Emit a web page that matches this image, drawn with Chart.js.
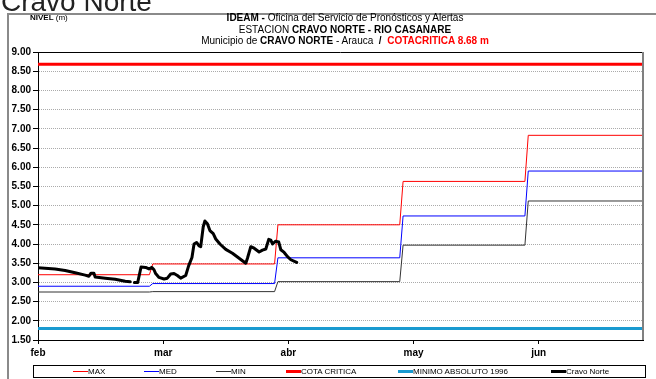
<!DOCTYPE html>
<html>
<head>
<meta charset="utf-8">
<script src="https://cdn.jsdelivr.net/npm/chart.js@4/dist/chart.umd.min.js"></script>
<style>
  html, body { margin: 0; padding: 0; background: #fff; }
  #wrap { position: relative; width: 656px; height: 379px; overflow: hidden; background: #fff;
          font-family: "Liberation Sans", Arial, sans-serif; color: #000; }
  #chart { position: absolute; left: 0; top: 0; }
  .abs { position: absolute; white-space: nowrap; }
  #bigTitle { left: 1px; top: -14px; font-size: 28px; color: #222; }
  #frameTop { left: 7px; top: 13px; width: 649px; height: 2px; background: #8a8a8a; }
  #frameLeft { left: 7px; top: 13px; width: 2px; height: 366px; background: #8a8a8a; }
  .ttl { left: 145px; width: 400px; text-align: center; font-size: 10px; line-height: 12px; }
  #nivel { left: 30px; top: 13px; font-size: 8px; }
  #legend { left: 33px; top: 365px; width: 611px; height: 11px; border: 1px solid #000; }
  .lg { position: absolute; top: 0; height: 11px; font-size: 8px; line-height: 11px; }
  .sw { position: absolute; }
</style>
</head>
<body>
<div id="wrap">
  <canvas id="chart" width="656" height="379"></canvas>
  <div class="abs" id="bigTitle">Cravo Norte</div>
  <div class="abs" id="frameTop"></div>
  <div class="abs" id="frameLeft"></div>
  <div class="abs" id="nivel"><b>NIVEL</b> (m)</div>
  <div class="abs ttl" style="top:12px"><b>IDEAM -</b> Oficina del Servicio de Pronósticos y Alertas</div>
  <div class="abs ttl" style="top:24px">ESTACION <b>CRAVO NORTE - RIO CASANARE</b></div>
  <div class="abs ttl" style="top:35px">Municipio de <b>CRAVO NORTE</b> - Arauca &nbsp;<b>/</b>&nbsp; <b style="color:#ff0000">COTACRITICA 8.68 m</b></div>
  <div class="abs" id="legend"></div>
</div>
<script>
// Month ticks (day index, 30-day months starting 1 feb)
const monthLabels = ['feb', 'mar', 'abr', 'may', 'jun'];
const monthDays = [0, 30, 60, 90, 120];
const lastDay = 145;

// Monthly reference levels (m)
const maxLevels = [3.20, 3.48, 4.50, 5.63, 6.83];
const medLevels = [2.90, 2.97, 3.64, 4.73, 5.90];
const minLevels = [2.75, 2.76, 3.02, 3.97, 5.12];

// Constant reference levels (m)
const cotaCritica = 8.68;
const minimoAbsoluto1996 = 1.80;

// Observed levels, Cravo Norte station (day index, m); null = no data
const obsDay = [0, 4.1, 6.5, 8.9, 11.3, 12.2, 12.7, 13.4, 13.7, 16.1, 18.5, 20.9, 22.1, 22.6,
  23.1, 23.9, 24.7, 25.8, 26.6, 27.3, 27.8, 28.2, 29.0, 30.2, 31.0, 31.8, 32.6, 33.4, 34.2,
  35.4, 36.1, 36.9, 37.4, 38.0, 38.6, 39.0, 39.6, 40.0, 40.6, 41.2, 42.0, 42.6, 43.6, 45.0,
  46.6, 48.2, 49.8, 50.2, 51.0, 51.8, 53.0, 53.8, 54.6, 55.3, 55.8, 56.2, 56.9, 57.7, 58.2,
  59.0, 59.8, 60.6, 62.0];
const obsLevel = [3.38, 3.35, 3.31, 3.25, 3.19, 3.16, 3.24, 3.24, 3.14, 3.11, 3.08, 3.03, 3.02, null,
  3.00, 3.00, 3.40, 3.39, 3.35, 3.39, 3.33, 3.23, 3.13, 3.09, 3.11, 3.22, 3.23, 3.18, 3.11,
  3.18, 3.43, 3.65, 4.00, 4.04, 3.95, 3.93, 4.45, 4.60, 4.53, 4.35, 4.27, 4.13, 4.00, 3.86,
  3.76, 3.63, 3.50, 3.63, 3.93, 3.89, 3.79, 3.84, 3.87, 4.12, 4.10, 4.00, 4.07, 4.05, 3.85,
  3.78, 3.67, 3.59, 3.52];

// Each monthly level changes a few days before the month tick
const stepLead = 3.3, stepRun = 0.8;
function stepPoints(levels) {
  const pts = [];
  levels.forEach((v, i) => {
    const start = i === 0 ? 0 : monthDays[i] - stepLead + stepRun;
    const end = i === levels.length - 1 ? lastDay : monthDays[i + 1] - stepLead;
    pts.push({ x: start, y: v }, { x: end, y: v });
  });
  return pts;
}
const flat = v => [{ x: 0, y: v }, { x: lastDay, y: v }];
const obsPoints = obsDay.map((d, i) => ({ x: d, y: obsLevel[i] }));

const FONT = '"Liberation Sans", Arial, sans-serif';

const series = [
  { label: 'Cravo Norte', data: obsPoints, borderColor: '#000000', borderWidth: 3, order: 0, legendW: 3 },
  { label: 'MAX', data: stepPoints(maxLevels), borderColor: '#ff0000', borderWidth: 1, order: 3, legendW: 1 },
  { label: 'MED', data: stepPoints(medLevels), borderColor: '#0000ff', borderWidth: 1, order: 4, legendW: 1 },
  { label: 'MIN', data: stepPoints(minLevels), borderColor: '#333333', borderWidth: 1, order: 5, legendW: 1 },
  { label: 'COTA CRITICA', data: flat(cotaCritica), borderColor: '#ff0000', borderWidth: 3, order: 1, legendW: 3 },
  { label: 'MINIMO ABSOLUTO 1996', data: flat(minimoAbsoluto1996), borderColor: '#1a9ad0', borderWidth: 3, order: 2, legendW: 3 }
];

// Plot frame: black top edge and grey right edge
const plotFrame = {
  id: 'plotFrame',
  afterDraw(chart) {
    const { ctx, chartArea: a } = chart;
    ctx.save();
    ctx.strokeStyle = '#000';
    ctx.lineWidth = 1;
    ctx.beginPath();
    ctx.moveTo(a.left, a.top + 0.5);
    ctx.lineTo(a.right, a.top + 0.5);
    ctx.stroke();
    ctx.strokeStyle = '#808080';
    ctx.lineWidth = 2;
    ctx.beginPath();
    ctx.moveTo(a.right, a.top);
    ctx.lineTo(a.right, a.bottom);
    ctx.stroke();
    ctx.restore();
  }
};

new Chart(document.getElementById('chart'), {
  type: 'line',
  data: {
    datasets: series.map(s => ({
      label: s.label, data: s.data, borderColor: s.borderColor, backgroundColor: s.borderColor,
      borderWidth: s.borderWidth, order: s.order, pointRadius: 0, tension: 0, spanGaps: false,
      borderJoinStyle: 'round', borderCapStyle: 'round'
    }))
  },
  options: {
    responsive: false,
    animation: false,
    layout: { padding: { left: 0, right: 13, top: 52, bottom: 0 } },
    plugins: { legend: { display: false }, tooltip: { enabled: false } },
    scales: {
      x: {
        type: 'linear', min: 0, max: lastDay,
        afterBuildTicks: s => { s.ticks = monthDays.map(v => ({ value: v })); },
        afterFit: s => { s.height = 39; },
        grid: { display: true, drawOnChartArea: false, drawTicks: true, tickLength: 4, tickColor: '#000' },
        border: { display: true, color: '#000', width: 1 },
        ticks: {
          autoSkip: false, maxRotation: 0, padding: 3, color: '#000',
          font: { family: FONT, size: 10, weight: 'bold' },
          callback: v => monthLabels[monthDays.indexOf(v)]
        }
      },
      y: {
        min: 1.5, max: 9,
        afterFit: s => { s.width = 38; },
        grid: { color: '#ababab', lineWidth: 1, drawTicks: true, tickLength: 5, tickColor: '#000', tickBorderDash: [] },
        border: { display: true, color: '#000', width: 1, dash: [1, 1] },
        ticks: {
          stepSize: 0.5, padding: 2, color: '#000',
          font: { family: FONT, size: 10, weight: 'bold' },
          callback: v => Number(v).toFixed(2)
        }
      }
    }
  },
  plugins: [plotFrame]
});

// Legend entries along the bottom box
const legendX = { 'MAX': 39, 'MED': 110, 'MIN': 182, 'COTA CRITICA': 252, 'MINIMO ABSOLUTO 1996': 364, 'Cravo Norte': 517 };
const legendOrder = ['MAX', 'MED', 'MIN', 'COTA CRITICA', 'MINIMO ABSOLUTO 1996', 'Cravo Norte'];
const legendEl = document.getElementById('legend');
legendOrder.forEach(name => {
  const s = series.find(d => d.label === name);
  const item = document.createElement('div');
  item.className = 'lg';
  item.style.left = legendX[name] + 'px';
  const sw = document.createElement('div');
  sw.className = 'sw';
  sw.style.left = '0px';
  sw.style.width = '15px';
  sw.style.height = s.legendW + 'px';
  sw.style.top = (6 - Math.ceil(s.legendW / 2)) + 'px';
  sw.style.background = s.borderColor;
  const tx = document.createElement('span');
  tx.style.marginLeft = '15px';
  tx.textContent = name;
  item.appendChild(sw);
  item.appendChild(tx);
  legendEl.appendChild(item);
});
</script>
</body>
</html>
